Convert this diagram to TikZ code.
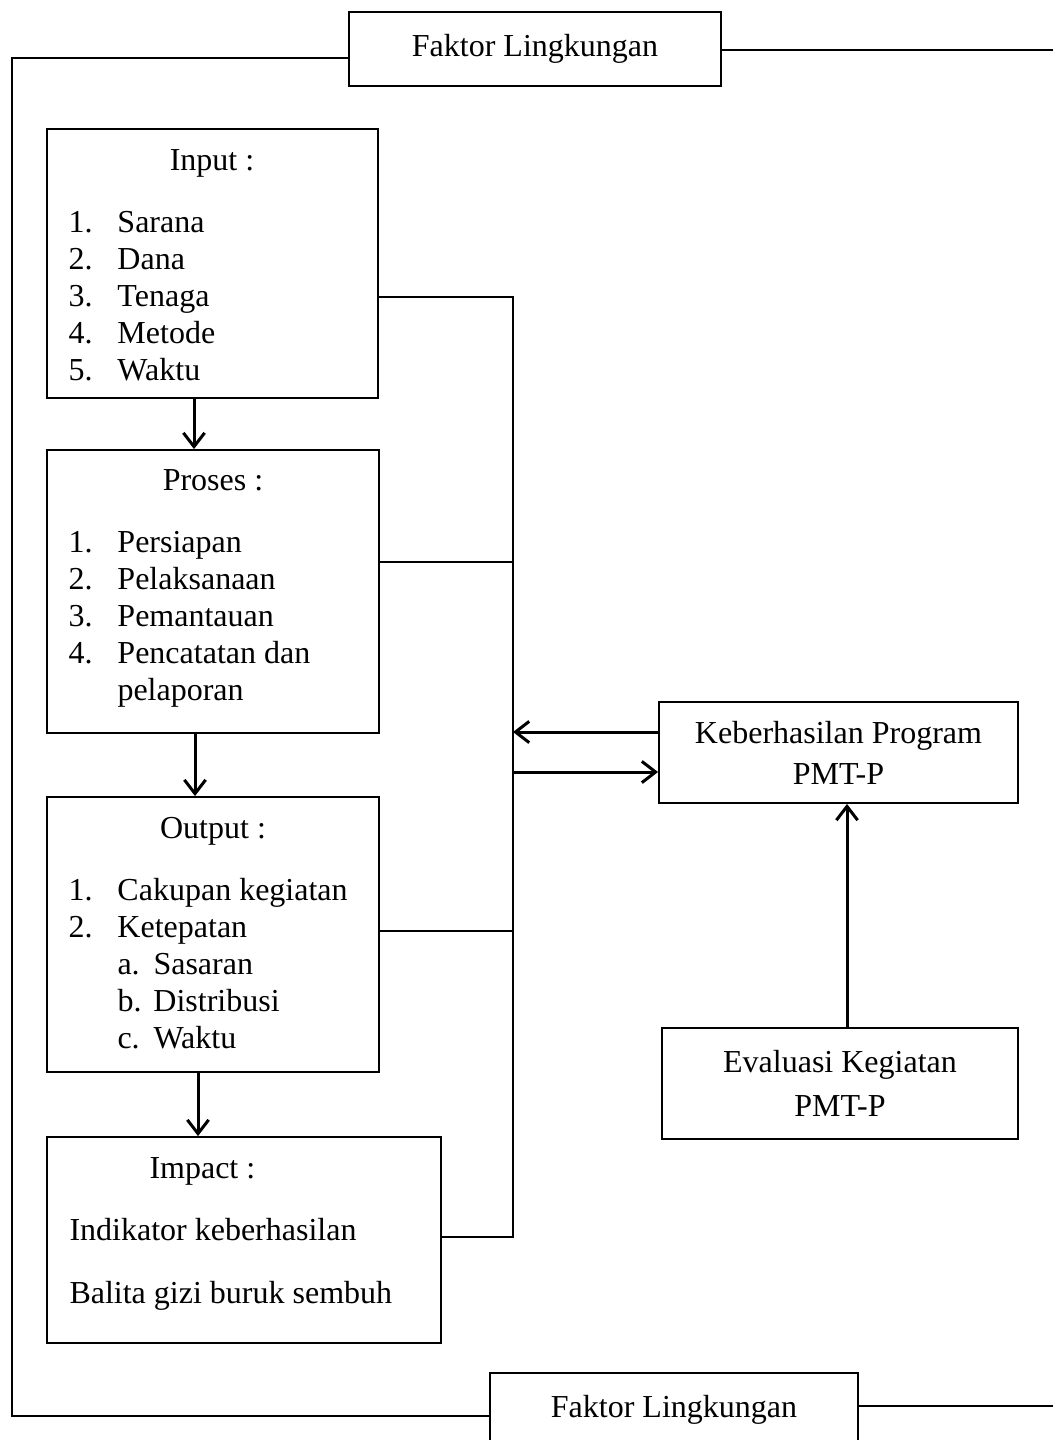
\documentclass[tikz,border=0pt]{standalone}
\usepackage{fontspec}
\setmainfont{Liberation Serif}
\usetikzlibrary{arrows.meta,calc}
\newcommand{\bodyfont}{\fontsize{12.8}{14.8}\selectfont}
\newcommand{\subitm}[2]{\makebox[14.4pt][l]{#1}#2}
\tikzset{
    pmt diagram/.style = {>={Straight Barb[length=5.5pt,width=8.5pt]},
                          x=0.4pt, y=-0.4pt},
    line/.style        = {line width=0.8pt},
    flow/.style        = {line width=1.2pt, ->},
    block/.style       = {draw, line width=0.75pt, fill=white,
                          font=\bodyfont, inner sep=0pt},
    sig/.style         = {font=\bodyfont, inner sep=0pt}
}

\begin{document}
\begin{tikzpicture}[pmt diagram]
\useasboundingbox (0,0) rectangle (1053,1440);
\clip (0,0) rectangle (1053,1440);

% ================= Environment factors =================
\node[block, minimum width=148.8pt, minimum height=29.6pt] (fl1) at (535,49) {Faktor Lingkungan};
\node[block, minimum width=147.2pt, minimum height=29.6pt] (fl2) at (674,1410) {Faktor Lingkungan};

% ================= Input / process / output / impact =================
\node[block, minimum width=132.4pt, minimum height=107.6pt] (input) at (212.5,263.5) {};
\node[sig, anchor=base] (inputtitle) at (212,170) {Input :};
\node[sig, anchor=base west] (inputlist) at (68,232) {%
  \begin{tabular}[t]{@{}p{19.6pt}@{}l@{}}
    1. & Sarana\\ 2. & Dana\\ 3. & Tenaga\\ 4. & Metode\\ 5. & Waktu
  \end{tabular}};

\node[block, minimum width=132.8pt, minimum height=113.2pt] (proses) at (213,591.5) {};
\node[sig, anchor=base] (prosestitle) at (213,490) {Proses :};
\node[sig, anchor=base west] (proseslist) at (68,552) {%
  \begin{tabular}[t]{@{}p{19.6pt}@{}l@{}}
    1. & Persiapan\\ 2. & Pelaksanaan\\ 3. & Pemantauan\\
    4. & Pencatatan dan\\ & pelaporan
  \end{tabular}};

\node[block, minimum width=132.8pt, minimum height=110pt] (output) at (213,934.5) {};
\node[sig, anchor=base] (outputtitle) at (213,838) {Output :};
\node[sig, anchor=base west] (outputlist) at (68,900) {%
  \begin{tabular}[t]{@{}p{19.6pt}@{}l@{}}
    1. & Cakupan kegiatan\\ 2. & Ketepatan\\
    & \subitm{a.}{Sasaran}\\ & \subitm{b.}{Distribusi}\\ & \subitm{c.}{Waktu}
  \end{tabular}};

\node[block, minimum width=157.6pt, minimum height=82.4pt] (impact) at (244,1240) {};
\node[sig, anchor=base west] (impacttitle) at (149,1178) {Impact :};
\node[sig, anchor=base west] (impactlist) at (69,1240) {%
  \begin{tabular}[t]{@{}l@{}}
    Indikator keberhasilan\\[10.4pt] Balita gizi buruk sembuh
  \end{tabular}};

% ================= Programme success and evaluation =================
\node[block, align=center, minimum width=143.6pt, minimum height=40.4pt] (keb) at (838.5,752.5)
  {Keberhasilan Program\\[1.6pt] PMT-P};
\node[block, align=center, minimum width=142.4pt, minimum height=44.4pt] (eval) at (840,1083.5)
  {Evaluasi Kegiatan\\[2.8pt] PMT-P};

% ================= Main flow =================
\draw[flow] ([xshift=-7.4pt]input.south) -- ([xshift=-7.4pt]input.south |- proses.north);
\draw[flow] ([xshift=-7.2pt]proses.south) -- ([xshift=-7.2pt]proses.south |- output.north);
\draw[flow] ([xshift=-6pt]output.south) -- ([xshift=-6pt]output.south |- impact.north);

% ================= Feedback bus =================
\coordinate (busin)   at (513,297);
\coordinate (buspro)  at (513,562);
\coordinate (busback) at (513,732);
\coordinate (busfwd)  at (513,772);
\coordinate (busout)  at (513,931);
\coordinate (busimp)  at (513,1237);
\draw[line] (input.east |- busin) -- (busin) -- (busimp) -- (impact.east |- busimp);
\draw[line] (proses.east |- buspro) -- (buspro);
\draw[line] (output.east |- busout) -- (busout);
\draw[flow] (keb.west |- busback) -- (busback);
\draw[flow] (busfwd) -- (keb.west |- busfwd);
\draw[flow] ([xshift=2.8pt]eval.north) -- ([xshift=2.8pt]eval.north |- keb.south);

% ================= Outer frame =================
\coordinate (lefttop)  at (12,58);
\coordinate (leftbot)  at (12,1416);
\coordinate (righttop) at (1053,50);
\coordinate (rightbot) at (1053,1406);
\draw[line] (fl1.west |- lefttop) -- (lefttop) -- (leftbot) -- (fl2.west |- leftbot);
\draw[line] (fl1.east |- righttop) -- (righttop);
\draw[line] (fl2.east |- rightbot) -- (rightbot);

\end{tikzpicture}
\end{document}
